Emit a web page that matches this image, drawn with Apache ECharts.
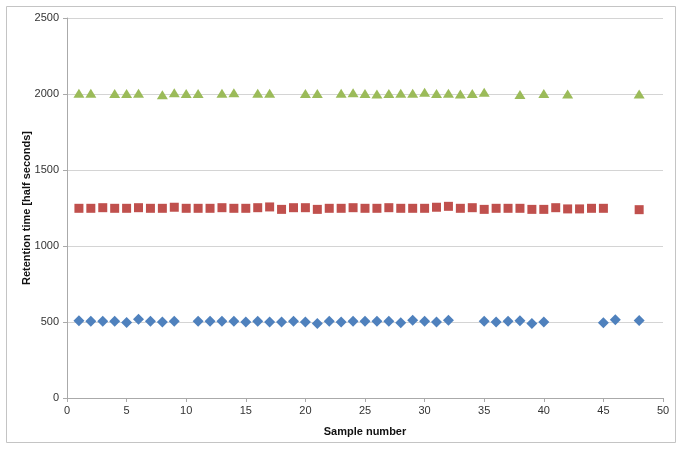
<!DOCTYPE html>
<html>
<head>
<meta charset="utf-8">
<script src="https://cdn.jsdelivr.net/npm/echarts@6/dist/echarts.min.js"></script>
<style>
  html, body { margin: 0; padding: 0; background: #fff; }
  #chart { width: 683px; height: 451px; }
</style>
</head>
<body>
<div id="chart"></div>
<script>
// ====== data ======
const xTicks = [0, 5, 10, 15, 20, 25, 30, 35, 40, 45, 50];
const yTicks = [0, 500, 1000, 1500, 2000, 2500];

// blue diamonds (~500)
const blueX = [1, 2, 3, 4, 5, 6, 7, 8, 9, 11, 12, 13, 14, 15, 16, 17, 18, 19, 20, 21, 22, 23, 24, 25, 26, 27, 28, 29, 30, 31, 32, 35, 36, 37, 38, 39, 40, 45, 46, 48];
const blueY = [508, 505, 505, 505, 497, 518, 505, 500, 505, 505, 505, 505, 505, 500, 505, 500, 500, 505, 500, 490, 505, 500, 505, 505, 505, 505, 495, 512, 505, 500, 512, 505, 500, 505, 508, 490, 500, 495, 515, 510];

// red squares (~1250)
const redX = [1, 2, 3, 4, 5, 6, 7, 8, 9, 10, 11, 12, 13, 14, 15, 16, 17, 18, 19, 20, 21, 22, 23, 24, 25, 26, 27, 28, 29, 30, 31, 32, 33, 34, 35, 36, 37, 38, 39, 40, 41, 42, 43, 44, 45, 48];
const redY = [1248, 1248, 1252, 1248, 1248, 1252, 1248, 1248, 1255, 1248, 1248, 1248, 1252, 1248, 1248, 1252, 1257, 1241, 1252, 1252, 1241, 1248, 1248, 1252, 1248, 1248, 1252, 1248, 1248, 1248, 1255, 1261, 1248, 1252, 1241, 1248, 1248, 1248, 1241, 1241, 1252, 1244, 1244, 1248, 1248, 1239];

// green triangles (~2000)
const greenX = [1, 2, 4, 5, 6, 8, 9, 10, 11, 13, 14, 16, 17, 20, 21, 23, 24, 25, 26, 27, 28, 29, 30, 31, 32, 33, 34, 35, 38, 40, 42, 48];
const greenY = [2005, 2005, 2003, 2003, 2005, 1995, 2008, 2003, 2003, 2005, 2008, 2005, 2005, 2003, 2003, 2005, 2008, 2003, 2000, 2003, 2005, 2005, 2012, 2003, 2005, 2000, 2003, 2012, 1997, 2003, 2000, 2000];

const pairs = (xs, ys) => xs.map((x, i) => [x, ys[i]]);

const chart = echarts.init(document.getElementById("chart"));
const font = "Liberation Sans, Arial, sans-serif";

chart.setOption({
  backgroundColor: "#fff",
  animation: false,
  textStyle: { fontFamily: font },
  graphic: [{
    type: "rect",
    shape: { x: 6.5, y: 6.5, width: 669, height: 436 },
    style: { fill: "none", stroke: "#c4c4c4", lineWidth: 1 },
    silent: true
  }],
  grid: { left: 67, right: 20, top: 18, bottom: 53 },
  xAxis: {
    type: "value",
    min: xTicks[0],
    max: xTicks[xTicks.length - 1],
    interval: 5,
    name: "Sample number",
    nameLocation: "middle",
    nameGap: 28,
    nameTextStyle: { fontWeight: "bold", fontSize: 11, color: "#111" },
    axisLine: { show: true, lineStyle: { color: "#aaa" } },
    axisTick: { show: true, length: 4, lineStyle: { color: "#aaa" } },
    axisLabel: { fontSize: 11, color: "#333", margin: 7 },
    splitLine: { show: false }
  },
  yAxis: {
    type: "value",
    min: yTicks[0],
    max: yTicks[yTicks.length - 1],
    interval: 500,
    name: "Retention time [half seconds]",
    nameLocation: "middle",
    nameGap: 35,
    nameMoveOverlap: false,
    nameTextStyle: { fontWeight: "bold", fontSize: 11, color: "#111" },
    axisLine: { show: true, lineStyle: { color: "#aaa" } },
    axisTick: { show: true, length: 4, lineStyle: { color: "#aaa" } },
    axisLabel: { fontSize: 11, color: "#333", margin: 8, formatter: (v) => String(v) },
    splitLine: { show: true, lineStyle: { color: "#d4d4d4", width: 1 } }
  },
  series: [
    {
      type: "scatter",
      data: pairs(blueX, blueY),
      symbol: "diamond",
      symbolSize: [11, 11],
      itemStyle: { color: "#4f81bd", opacity: 1 }
    },
    {
      type: "scatter",
      data: pairs(redX, redY),
      symbol: "rect",
      symbolSize: [9, 9],
      itemStyle: { color: "#c0504d", opacity: 1 }
    },
    {
      type: "scatter",
      data: pairs(greenX, greenY),
      symbol: "triangle",
      symbolSize: [11, 9],
      itemStyle: { color: "#9bbb59", opacity: 1 }
    }
  ]
});
</script>
</body>
</html>
